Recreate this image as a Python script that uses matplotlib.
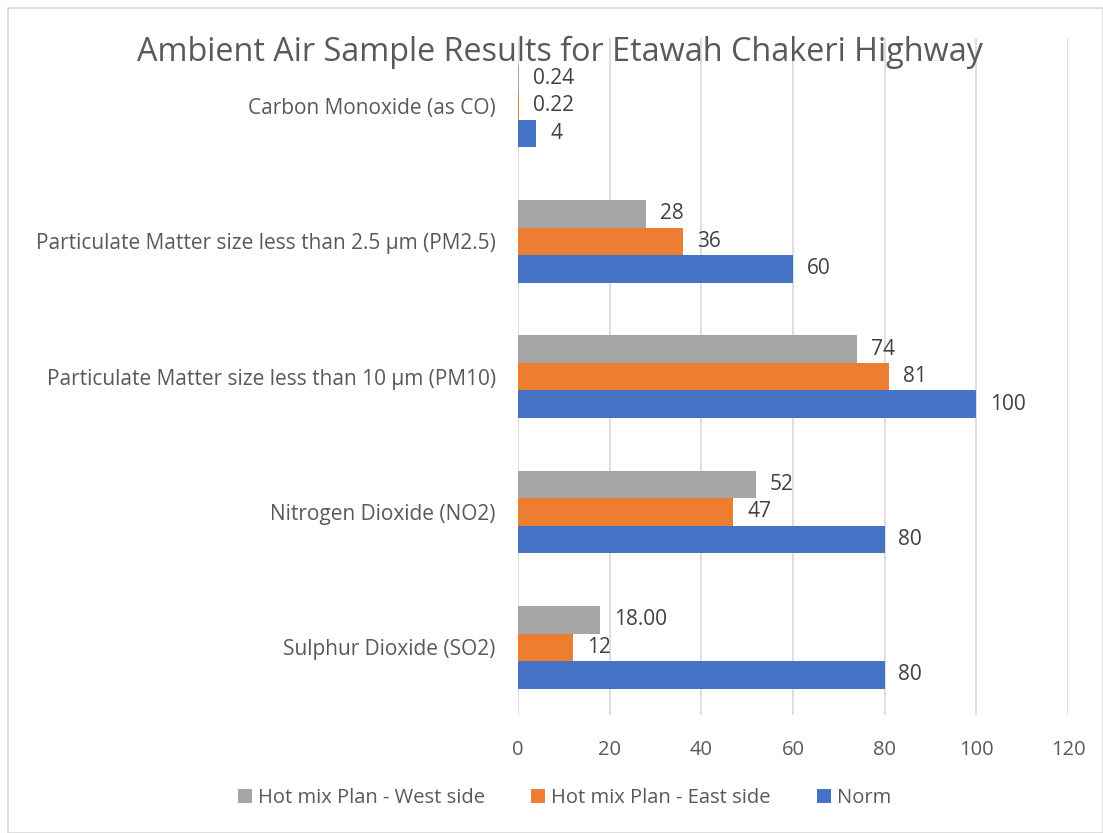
import numpy as np
import matplotlib.pyplot as plt
from matplotlib.patches import Rectangle

categories = ["Sulphur Dioxide (SO2)", "Nitrogen Dioxide (NO2)",
              "Particulate Matter size less than 10 µm (PM10)",
              "Particulate Matter size less than 2.5 µm (PM2.5)",
              "Carbon Monoxide (as CO)"]
norm = [80, 80, 100, 60, 4]
east = [12, 47, 81, 36, 0.22]
west = [18, 52, 74, 28, 0.24]
norm_labels = ["80", "80", "100", "60", "4"]
east_labels = ["12", "47", "81", "36", "0.22"]
west_labels = ["18.00", "52", "74", "28", "0.24"]

plt.rcParams['font.family'] = ['Open Sans', 'DejaVu Sans']
text_col = "#595959"

fig = plt.figure(figsize=(11.03, 8.33), dpi=100)
ax = fig.add_axes([0.4696, 0.1417, 0.4987, 0.8123])
fig.patches.append(Rectangle((0.007, 0.0), 0.993, 0.99, transform=fig.transFigure,
                             fill=False, edgecolor="#d9d9d9", linewidth=1.2))

y = np.arange(len(categories))
h = 0.203
series = [(norm, norm_labels, "#4472c4", "Norm", -h),
          (east, east_labels, "#ed7d31", "Hot mix Plan - East side", 0),
          (west, west_labels, "#a5a5a5", "Hot mix Plan - West side", h)]
bars = {}
for vals, labs, col, name, off in series:
    b = ax.barh(y + off, vals, height=h, color=col, label=name, zorder=3)
    bars[name] = b
    for v, yy, lab in zip(vals, y + off, labs):
        ax.text(v + 3.0, yy, lab, va="center", ha="left", fontsize=15, color="#404040")

ax.set_xlim(0, 120)
ax.set_ylim(-0.5, 4.5)
ax.set_xticks(range(0, 121, 20))
ax.set_yticks(y)
ax.set_yticklabels(categories)
ax.tick_params(axis="both", length=0, labelsize=14.5, colors=text_col)
ax.tick_params(axis="y", labelsize=15, pad=16)
ax.tick_params(axis="x", pad=18)
ax.grid(axis="x", color="#d9d9d9", linewidth=1.2, zorder=0)
for s in ax.spines.values():
    s.set_visible(False)

fig.suptitle("Ambient Air Sample Results for Etawah Chakeri Highway", x=0.508, y=0.9376,
             va="center", fontsize=23.3, color=text_col)

handles = [bars["Hot mix Plan - West side"], bars["Hot mix Plan - East side"], bars["Norm"]]
leg = fig.legend(handles, [hh.get_label() for hh in handles], loc="center",
                 bbox_to_anchor=(0.512, 0.042), ncol=3, frameon=False, fontsize=14.5,
                 handlelength=0.7, handleheight=0.7, columnspacing=2.3, handletextpad=0.3)
for t in leg.get_texts():
    t.set_color(text_col)

fig.savefig("out.png", dpi=100)
